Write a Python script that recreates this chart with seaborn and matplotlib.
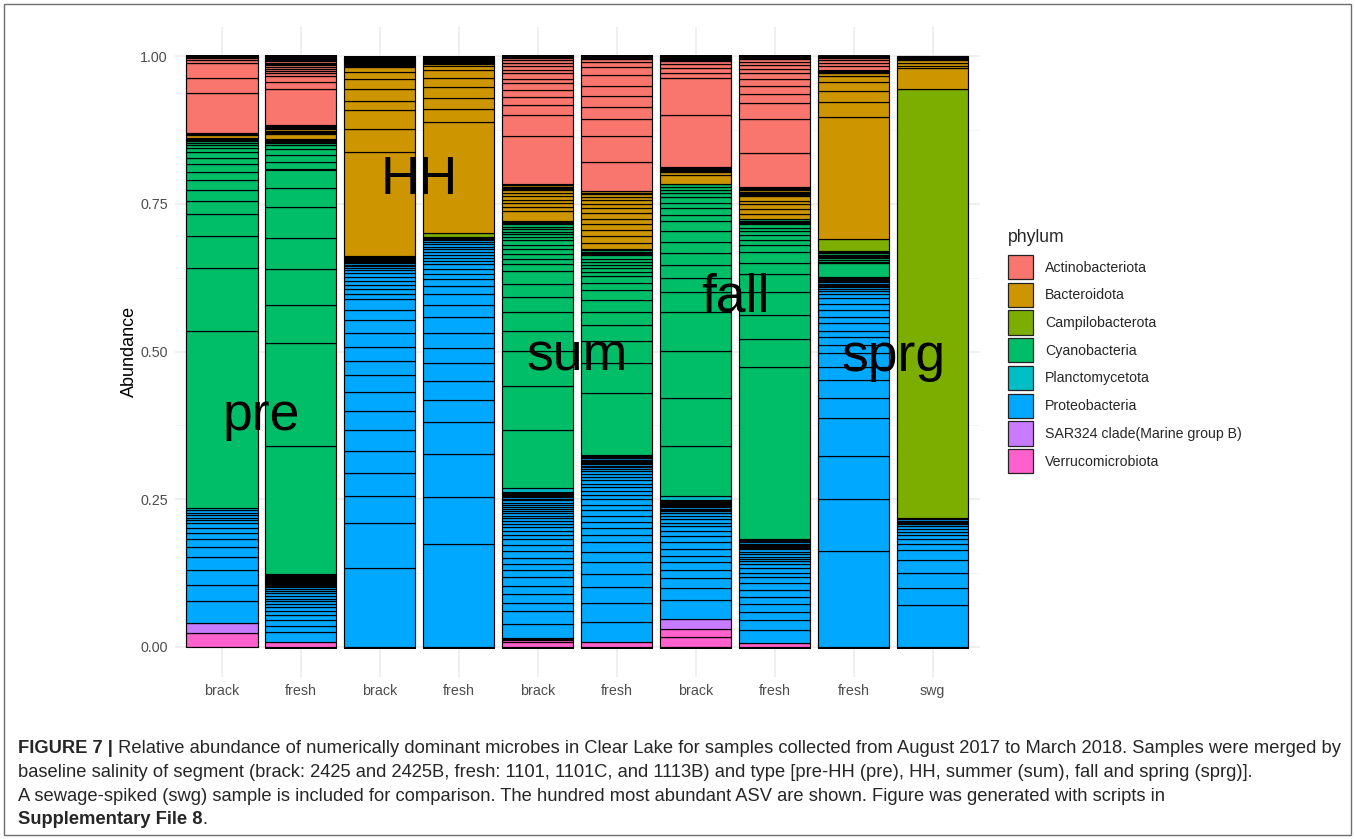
import matplotlib
matplotlib.use("Agg")
import matplotlib.pyplot as plt
import matplotlib.patches as mpatches
import matplotlib.transforms as mtransforms
from matplotlib.ticker import MultipleLocator, FixedLocator
import pandas as pd
import seaborn as sns

# phylum levels (legend order) and their ggplot hue colours
phyla = ["Actinobacteriota", "Bacteroidota", "Campilobacterota", "Cyanobacteria",
         "Planctomycetota", "Proteobacteria", "SAR324 clade(Marine group B)",
         "Verrucomicrobiota"]
phylum_colors = ["#F8766D", "#CD9600", "#7CAE00", "#00BE67",
                 "#00BFC4", "#00A9FF", "#C77CFF", "#FF61CC"]

salinity = ["brack", "fresh", "brack", "fresh", "brack",
            "fresh", "brack", "fresh", "fresh", "swg"]
season = ["pre", "pre", "HH", "HH", "sum", "sum", "fall", "fall", "sprg", "sprg"]
season_labels = ["pre", "HH", "sum", "fall", "sprg"]
season_label_y = [0.40, 0.80, 0.50, 0.60, 0.50]

# relative abundance of each ASV, grouped by phylum (within a phylum: bottom to top)
pre_brack = {
    "Verrucomicrobiota": [0.023],
    "SAR324 clade(Marine group B)": [0.018],
    "Proteobacteria": [0.036, 0.028, 0.026, 0.022, 0.017, 0.013, 0.010, 0.009, 0.007,
                       0.006, 0.004, 0.004, 0.004, 0.005],
    "Planctomycetota": [0.004],
    "Cyanobacteria": [0.298, 0.107, 0.055, 0.036, 0.023, 0.018, 0.018, 0.013, 0.013,
                      0.011, 0.010, 0.007, 0.004, 0.003, 0.005, 0.001, 0.001, 0.001, 0.001],
    "Bacteroidota": [0.006, 0.001, 0.001],
    "Actinobacteriota": [0.068, 0.025, 0.026, 0.006, 0.003, 0.003],
}
pre_fresh = {
    "Verrucomicrobiota": [0.009],
    "Proteobacteria": [0.017, 0.010, 0.010, 0.008, 0.007, 0.006, 0.006, 0.005, 0.004,
                       0.004, 0.005, 0.004, 0.003, 0.003, 0.002, 0.002, 0.002, 0.002,
                       0.0015, 0.0015, 0.0015, 0.0015, 0.001, 0.001, 0.001, 0.001,
                       0.001, 0.001, 0.001, 0.001],
    "Cyanobacteria": [0.217, 0.174, 0.064, 0.061, 0.053, 0.052, 0.033, 0.031, 0.013,
                      0.012, 0.010, 0.006, 0.004, 0.0015, 0.0015, 0.0015, 0.0015, 0.001],
    "Bacteroidota": [0.008, 0.002, 0.002, 0.002, 0.002, 0.0015, 0.0015, 0.0015, 0.0015,
                     0.001, 0.001],
    "Actinobacteriota": [0.060, 0.012, 0.011, 0.004, 0.004, 0.003, 0.004, 0.003, 0.002,
                         0.002, 0.002, 0.002, 0.002, 0.002, 0.001, 0.001, 0.001],
}
hh_brack = {
    "Proteobacteria": [0.133, 0.077, 0.046, 0.038, 0.038, 0.035, 0.033, 0.031, 0.029,
                       0.024, 0.024, 0.023, 0.022, 0.018, 0.018, 0.009, 0.007, 0.008,
                       0.007, 0.006, 0.006, 0.006, 0.004, 0.003, 0.002, 0.002, 0.002,
                       0.002, 0.002, 0.002, 0.0015, 0.0015, 0.001],
    "Bacteroidota": [0.176, 0.040, 0.031, 0.016, 0.020, 0.017, 0.012, 0.008, 0.002,
                     0.002, 0.002, 0.0015, 0.0015, 0.001],
    "Actinobacteriota": [0.002, 0.002, 0.0015, 0.0015, 0.001],
}
hh_fresh = {
    "Proteobacteria": [0.174, 0.079, 0.073, 0.054, 0.038, 0.032, 0.030, 0.026, 0.026,
                       0.026, 0.021, 0.019, 0.013, 0.011, 0.010, 0.008, 0.008, 0.006,
                       0.005, 0.005, 0.005, 0.004, 0.004, 0.005, 0.004, 0.002, 0.002,
                       0.0015, 0.0015, 0.001],
    "Campilobacterota": [0.006],
    "Bacteroidota": [0.189, 0.022, 0.018, 0.019, 0.015, 0.014, 0.007, 0.002, 0.002,
                     0.002, 0.002, 0.0015, 0.0015, 0.001, 0.001, 0.001, 0.001],
}
sum_brack = {
    "Verrucomicrobiota": [0.009, 0.002, 0.002, 0.002],
    "Proteobacteria": [0.024, 0.022, 0.014, 0.015, 0.014, 0.014, 0.012, 0.011, 0.010,
                       0.012, 0.010, 0.009, 0.008, 0.006, 0.007, 0.005, 0.005, 0.005,
                       0.004, 0.004, 0.004, 0.004, 0.003, 0.004, 0.003, 0.005, 0.002,
                       0.002, 0.002, 0.002, 0.0015, 0.0015, 0.0015, 0.0015],
    "Planctomycetota": [0.006],
    "Cyanobacteria": [0.098, 0.075, 0.058, 0.034, 0.033, 0.026, 0.022, 0.022, 0.011,
                      0.009, 0.008, 0.008, 0.007, 0.008, 0.005, 0.005, 0.005, 0.004,
                      0.004, 0.004, 0.003, 0.0015, 0.0015],
    "Bacteroidota": [0.016, 0.008, 0.006, 0.006, 0.006, 0.006, 0.004, 0.002, 0.002,
                     0.002, 0.002, 0.0015, 0.0015],
    "Actinobacteriota": [0.081, 0.035, 0.017, 0.014, 0.011, 0.012, 0.008, 0.009, 0.006,
                         0.006, 0.005, 0.005, 0.004, 0.0015, 0.0015],
}
sum_fresh = {
    "Verrucomicrobiota": [0.009],
    "Proteobacteria": [0.033, 0.033, 0.027, 0.021, 0.020, 0.018, 0.016, 0.013, 0.011,
                       0.010, 0.011, 0.010, 0.009, 0.009, 0.007, 0.007, 0.007, 0.005,
                       0.007, 0.005, 0.005, 0.004, 0.004, 0.004, 0.002, 0.002, 0.002,
                       0.002, 0.002, 0.002, 0.002, 0.0015, 0.0015, 0.0015, 0.0015],
    "Cyanobacteria": [0.105, 0.050, 0.038, 0.027, 0.022, 0.020, 0.017, 0.012, 0.011,
                      0.008, 0.007, 0.005, 0.005, 0.005, 0.006, 0.002, 0.002, 0.002,
                      0.002, 0.002],
    "Bacteroidota": [0.011, 0.011, 0.011, 0.009, 0.010, 0.009, 0.008, 0.008, 0.006,
                     0.006, 0.005, 0.002, 0.002],
    "Actinobacteriota": [0.049, 0.045, 0.028, 0.021, 0.018, 0.018, 0.018, 0.014, 0.008,
                         0.005, 0.002, 0.002, 0.001],
}
fall_brack = {
    "Verrucomicrobiota": [0.017, 0.013],
    "SAR324 clade(Marine group B)": [0.017],
    "Proteobacteria": [0.033, 0.019, 0.017, 0.014, 0.013, 0.011, 0.012, 0.011, 0.010,
                       0.009, 0.008, 0.006, 0.006, 0.006, 0.004, 0.004, 0.002, 0.002,
                       0.002, 0.002, 0.002, 0.002, 0.002, 0.0015, 0.0015, 0.0015, 0.0005],
    "Planctomycetota": [0.007],
    "Cyanobacteria": [0.084, 0.082, 0.079, 0.066, 0.034, 0.024, 0.022, 0.020, 0.019,
                      0.018, 0.016, 0.011, 0.011, 0.010, 0.009, 0.007, 0.005, 0.006,
                      0.004, 0.001],
    "Bacteroidota": [0.015, 0.004, 0.002, 0.002, 0.002, 0.002, 0.002],
    "Actinobacteriota": [0.087, 0.062, 0.010, 0.008, 0.007, 0.004, 0.002, 0.002, 0.002,
                         0.002, 0.001],
}
fall_fresh = {
    "Verrucomicrobiota": [0.006],
    "Proteobacteria": [0.023, 0.016, 0.014, 0.014, 0.012, 0.011, 0.012, 0.011, 0.007,
                       0.007, 0.007, 0.005, 0.004, 0.004, 0.004, 0.004, 0.004, 0.002,
                       0.002, 0.002, 0.002, 0.002, 0.002, 0.002, 0.0015, 0.0015, 0.0015],
    "Cyanobacteria": [0.291, 0.047, 0.040, 0.039, 0.030, 0.019, 0.019, 0.011, 0.010,
                      0.007, 0.007, 0.006, 0.006, 0.002, 0.002, 0.002, 0.002, 0.001],
    "Bacteroidota": [0.009, 0.008, 0.008, 0.006, 0.007, 0.002, 0.002, 0.002, 0.002,
                     0.002, 0.002, 0.0015, 0.0015, 0.001],
    "Actinobacteriota": [0.057, 0.058, 0.027, 0.016, 0.013, 0.011, 0.010, 0.008, 0.007,
                         0.005, 0.004, 0.002, 0.002, 0.001],
}
sprg_fresh = {
    "Proteobacteria": [0.163, 0.087, 0.074, 0.063, 0.035, 0.029, 0.023, 0.023, 0.014,
                       0.013, 0.010, 0.014, 0.011, 0.012, 0.010, 0.009, 0.007, 0.006,
                       0.003, 0.003, 0.002, 0.002, 0.002, 0.002, 0.002, 0.002, 0.002,
                       0.002, 0.001],
    "Cyanobacteria": [0.024, 0.002, 0.002, 0.004, 0.002, 0.002, 0.002, 0.002, 0.002, 0.002],
    "Campilobacterota": [0.021],
    "Bacteroidota": [0.205, 0.026, 0.019, 0.015, 0.010, 0.005, 0.002, 0.002, 0.001],
    "Actinobacteriota": [0.007, 0.005, 0.005, 0.003, 0.002, 0.002],
}
swg = {
    "Proteobacteria": [0.071, 0.028, 0.026, 0.022, 0.017, 0.010, 0.008, 0.008, 0.005,
                       0.005, 0.004, 0.004, 0.002, 0.002, 0.002, 0.002, 0.002],
    "Campilobacterota": [0.726],
    "Bacteroidota": [0.035, 0.005, 0.004, 0.005, 0.002, 0.002, 0.002, 0.001],
}
samples = [pre_brack, pre_fresh, hh_brack, hh_fresh, sum_brack,
           sum_fresh, fall_brack, fall_fresh, sprg_fresh, swg]

# long table: one row per ASV, stacked in ggplot order (last phylum level at the bottom)
rows = []
for i, sample in enumerate(samples):
    k = 0
    for ph in reversed(phyla):
        for v in sample.get(ph, []):
            rows.append({"pos": i, "asv": f"s{i}_{k:03d}", "phylum": ph, "abundance": v})
            k += 1
df = pd.DataFrame(rows)

color_of = dict(zip(phyla, phylum_colors))
asv_palette = {a: color_of[p] for a, p in zip(df["asv"], df["phylum"])}
# seaborn stacks the last hue level at the bottom
asv_order = list(df["asv"])[::-1]

sns.set_theme(style="whitegrid")
plt.rcParams["font.family"] = ["Liberation Sans", "DejaVu Sans"]

W, H = 1355, 839
fig = plt.figure(figsize=(W / 100, H / 100), dpi=100)
fig.patch.set_facecolor("white")
ax = fig.add_axes([174.6 / W, 1 - 676.5 / H, 805.4 / W, 650 / H])
ax.set_facecolor("white")

sns.histplot(data=df, x="pos", weights="abundance", hue="asv", hue_order=asv_order,
             palette=asv_palette, multiple="stack", discrete=True, shrink=0.9,
             alpha=1, edgecolor="black", linewidth=0.85, legend=False, ax=ax)

ax.set_xlim(-0.6, len(samples) - 0.4)
ax.set_ylim(-0.05, 1.05)
ax.xaxis.set_major_locator(FixedLocator(range(len(samples))))
ax.set_xticklabels(salinity)
ax.yaxis.set_major_locator(FixedLocator([0, 0.25, 0.5, 0.75, 1.0]))
ax.set_yticklabels(["0.00", "0.25", "0.50", "0.75", "1.00"])
ax.yaxis.set_minor_locator(MultipleLocator(0.125))
ax.tick_params(axis="both", which="both", length=0, labelsize=10.3, labelcolor="#4D4D4D")
ax.tick_params(axis="x", pad=5.6)
ax.tick_params(axis="y", pad=4.8)
ax.grid(True, which="major", color="#EBEBEB", linewidth=1.1)
ax.grid(True, which="minor", axis="y", color="#F2F2F2", linewidth=0.6)
ax.set_axisbelow(True)
for s in ax.spines.values():
    s.set_visible(False)
ax.set_xlabel("")
ax.set_ylabel("Abundance", fontsize=13, color="black")
ax.yaxis.set_label_coords(-0.0455, 0.5)

# season labels centred over each pair of bars
label_shift = mtransforms.offset_copy(ax.transData, fig=fig, x=0, y=-3.8, units="points")
for lab, ly in zip(season_labels, season_label_y):
    xs = [i for i, s in enumerate(season) if s == lab]
    ax.text(sum(xs) / len(xs), ly, lab, fontsize=38.5, ha="center", va="center",
            color="black", zorder=5, transform=label_shift)

# legend: title and keys
fig.text(1008 / W, 1 - 238 / H, "phylum", fontsize=12.7, ha="left", va="center")
handles = [mpatches.Patch(facecolor=c, edgecolor="#222222", linewidth=0.9)
           for c in phylum_colors]
leg = fig.legend(handles, phyla, loc="upper left",
                 bbox_to_anchor=(1008 / W, 1 - 255 / H), frameon=False,
                 fontsize=10.2, handlelength=1.77, handleheight=2.25,
                 labelspacing=0.25, handletextpad=0.85, borderpad=0, borderaxespad=0)

# caption
cap_fs = 13.2
cap_x = 18 / W
t1 = fig.text(cap_x, 1 - 753 / H, "FIGURE 7 |", fontsize=cap_fs, fontweight="bold",
              va="baseline")
ax.annotate(" Relative abundance of numerically dominant microbes in Clear Lake for samples "
            "collected from August 2017 to March 2018. Samples were merged by",
            xy=(1, 0), xycoords=t1, va="bottom", ha="left", fontsize=cap_fs,
            annotation_clip=False)
fig.text(cap_x, 1 - 777 / H,
         "baseline salinity of segment (brack: 2425 and 2425B, fresh: 1101, 1101C, and 1113B) "
         "and type [pre-HH (pre), HH, summer (sum), fall and spring (sprg)].",
         fontsize=cap_fs, va="baseline")
fig.text(cap_x, 1 - 801 / H,
         "A sewage-spiked (swg) sample is included for comparison. The hundred most abundant "
         "ASV are shown. Figure was generated with scripts in",
         fontsize=cap_fs, va="baseline")
t4 = fig.text(cap_x, 1 - 824 / H, "Supplementary File 8", fontsize=cap_fs,
              fontweight="bold", va="baseline")
ax.annotate(".", xy=(1, 0), xycoords=t4, va="bottom", ha="left", fontsize=cap_fs,
            annotation_clip=False)

# frame around figure and caption
fig.add_artist(mpatches.Rectangle((4 / W, 4 / H), 1347 / W, 831 / H,
                                  transform=fig.transFigure, fill=False,
                                  edgecolor="#6E6E6E", linewidth=1.0))

fig.savefig("out.png", dpi=100, facecolor="white")
